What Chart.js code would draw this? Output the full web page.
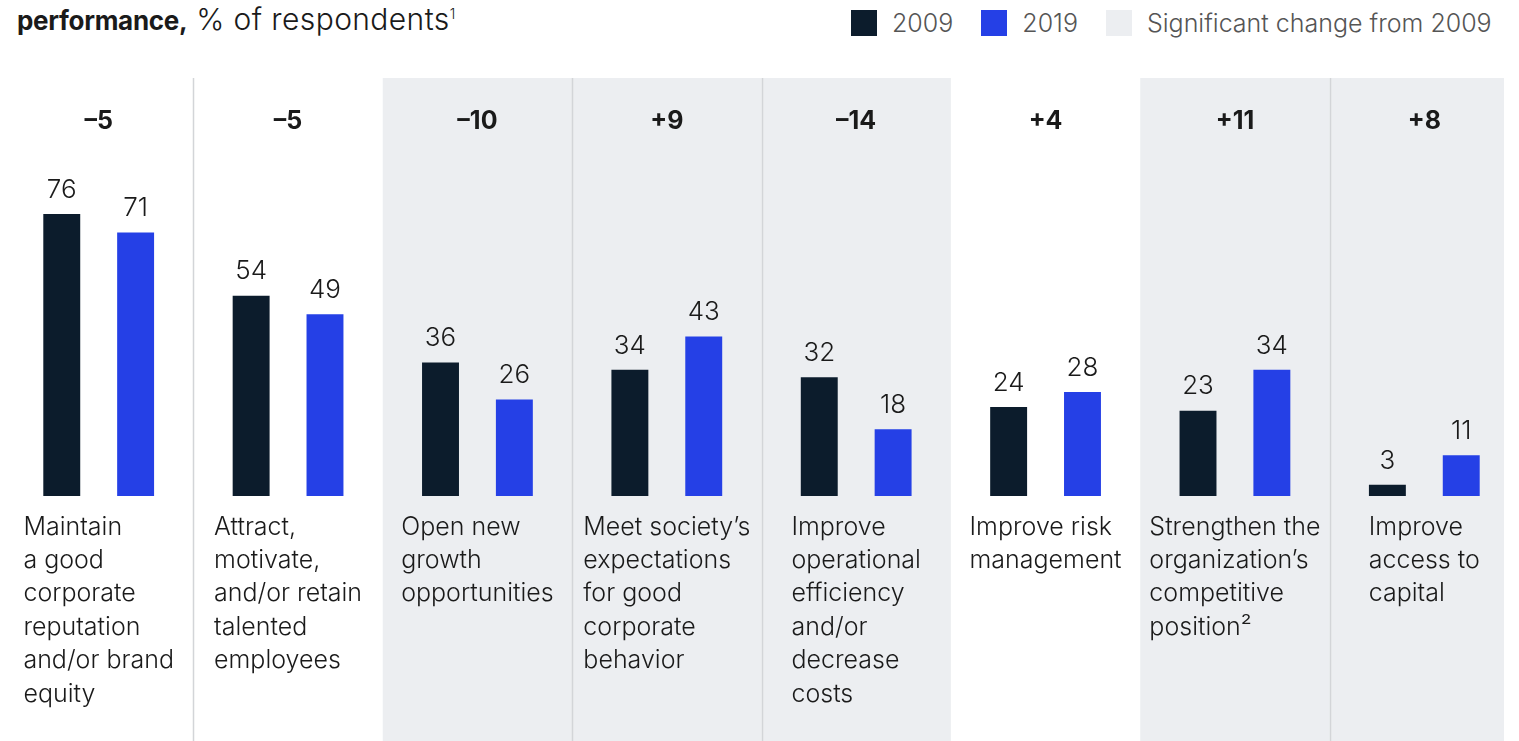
<!DOCTYPE html>
<html>
<head>
<meta charset="utf-8">
<script src="https://cdn.jsdelivr.net/npm/chart.js@4.4.1/dist/chart.umd.min.js"></script>
<style>
  body { margin: 0; background: #fff; font-family: Inter, "Liberation Sans", sans-serif; color: #1a1a1a; overflow: hidden; }
  #wrap { position: relative; width: 1519px; height: 741px; }
  #title { position: absolute; left: 17px; top: 1px; font-size: 30px; font-weight: 300; letter-spacing: 0.4px; white-space: nowrap; }
  #title b { font-weight: 700; font-size: 26px; letter-spacing: -0.3px; }
  #title sup { font-size: 14px; }
  #legend { position: absolute; top: 8px; left: 851px; font-size: 25px; font-weight: 300; color: #555; display: flex; align-items: center; white-space: nowrap; }
  #legend span.sw { display: inline-block; width: 26px; height: 26px; margin-right: 15px; }
  #legend span.item { display: flex; align-items: center; margin-right: 28px; }
  canvas { position: absolute; left: 0; top: 0; }
</style>
</head>
<body>
<div id="wrap">
  <div id="title"><b>performance,</b> % of respondents<sup>1</sup></div>
  <div id="legend">
    <span class="item"><span class="sw" style="background:#0c1c2c"></span>2009</span>
    <span class="item"><span class="sw" style="background:#2540e6"></span>2019</span>
    <span class="item"><span class="sw" style="background:#eceef1"></span>Significant change from 2009</span>
  </div>
  <canvas id="chart" width="1519" height="741"></canvas>
</div>
<script>
// categories, one line per entry as laid out in the source
const categories = [
  ['Maintain', 'a good', 'corporate', 'reputation', 'and/or brand', 'equity'],
  ['Attract,', 'motivate,', 'and/or retain', 'talented', 'employees'],
  ['Open new', 'growth', 'opportunities'],
  ['Meet society\u2019s', 'expectations', 'for good', 'corporate', 'behavior'],
  ['Improve', 'operational', 'efficiency', 'and/or', 'decrease', 'costs'],
  ['Improve risk', 'management'],
  ['Strengthen the', 'organization\u2019s', 'competitive', 'position\u00b2'],
  ['Improve', 'access to', 'capital']
];
const values2009 = [76, 54, 36, 34, 32, 24, 23, 3];
const values2019 = [71, 49, 26, 43, 18, 28, 34, 11];
const changeLabels = ['\u20135', '\u20135', '\u201310', '+9', '\u201314', '+4', '+11', '+8'];
const significant = [false, false, true, true, true, false, true, true];

const DARK = '#0c1c2c';
const BLUE = '#2540e6';
const SHADE = '#eceef1';
const FONT = 'Inter, "Liberation Sans", sans-serif';

// backgrounds, separators, labels
const decor = {
  id: 'decor',
  beforeDatasetsDraw(chart) {
    const { ctx, chartArea, scales: { x } } = chart;
    const n = categories.length;
    const step = (chartArea.right - chartArea.left) / n;
    ctx.save();
    for (let i = 0; i < n; i++) {
      const x0 = x.getPixelForValue(i) - step / 2;
      if (significant[i]) {
        const x1 = Math.min(x0 + step, chartArea.right - 15);
        ctx.fillStyle = SHADE;
        ctx.fillRect(x0, 78, x1 - x0, 741 - 78);
      }
      if (i > 0 && significant[i] === significant[i - 1]) {
        ctx.strokeStyle = '#d3d5d8';
        ctx.lineWidth = 1.5;
        ctx.beginPath();
        ctx.moveTo(Math.round(x0) + 0.5, 78);
        ctx.lineTo(Math.round(x0) + 0.5, 741);
        ctx.stroke();
      }
    }
    ctx.restore();
  },
  afterDatasetsDraw(chart) {
    const { ctx, scales: { x, y } } = chart;
    ctx.save();
    ctx.fillStyle = '#1a1a1a';
    // change labels
    ctx.font = '700 25px ' + FONT;
    ctx.textAlign = 'center';
    ctx.textBaseline = 'middle';
    changeLabels.forEach((t, i) => ctx.fillText(t, x.getPixelForValue(i), 121));
    // value labels
    ctx.font = '300 26px ' + FONT;
    ctx.textBaseline = 'bottom';
    chart.data.datasets.forEach((ds, di) => {
      chart.getDatasetMeta(di).data.forEach((bar, i) => {
        ctx.fillText(String(ds.data[i]), bar.x, bar.y - 11);
      });
    });
    // category labels, block centred in the column, lines left aligned
    ctx.font = '300 25px ' + FONT;
    ctx.textAlign = 'left';
    ctx.textBaseline = 'middle';
    const base = y.getPixelForValue(0);
    categories.forEach((lines, i) => {
      const w = Math.max(...lines.map(l => ctx.measureText(l).width));
      const x0 = x.getPixelForValue(i) - w / 2;
      lines.forEach((l, k) => ctx.fillText(l, x0, base + 31 + k * 33.4));
    });
    ctx.restore();
  }
};

new Chart(document.getElementById('chart'), {
  type: 'bar',
  data: {
    labels: categories.map(l => l.join(' ')),
    datasets: [
      { label: '2009', data: values2009, backgroundColor: DARK },
      { label: '2019', data: values2019, backgroundColor: BLUE }
    ]
  },
  options: {
    responsive: false,
    animation: false,
    devicePixelRatio: 1,
    layout: { padding: { top: 125, bottom: 245, left: 4, right: 0 } },
    datasets: { bar: { categoryPercentage: 0.78, barPercentage: 0.5 } },
    plugins: { legend: { display: false }, tooltip: { enabled: false } },
    scales: {
      x: { display: false },
      y: { display: false, min: 0, max: 100 }
    }
  },
  plugins: [decor]
});
</script>
</body>
</html>
